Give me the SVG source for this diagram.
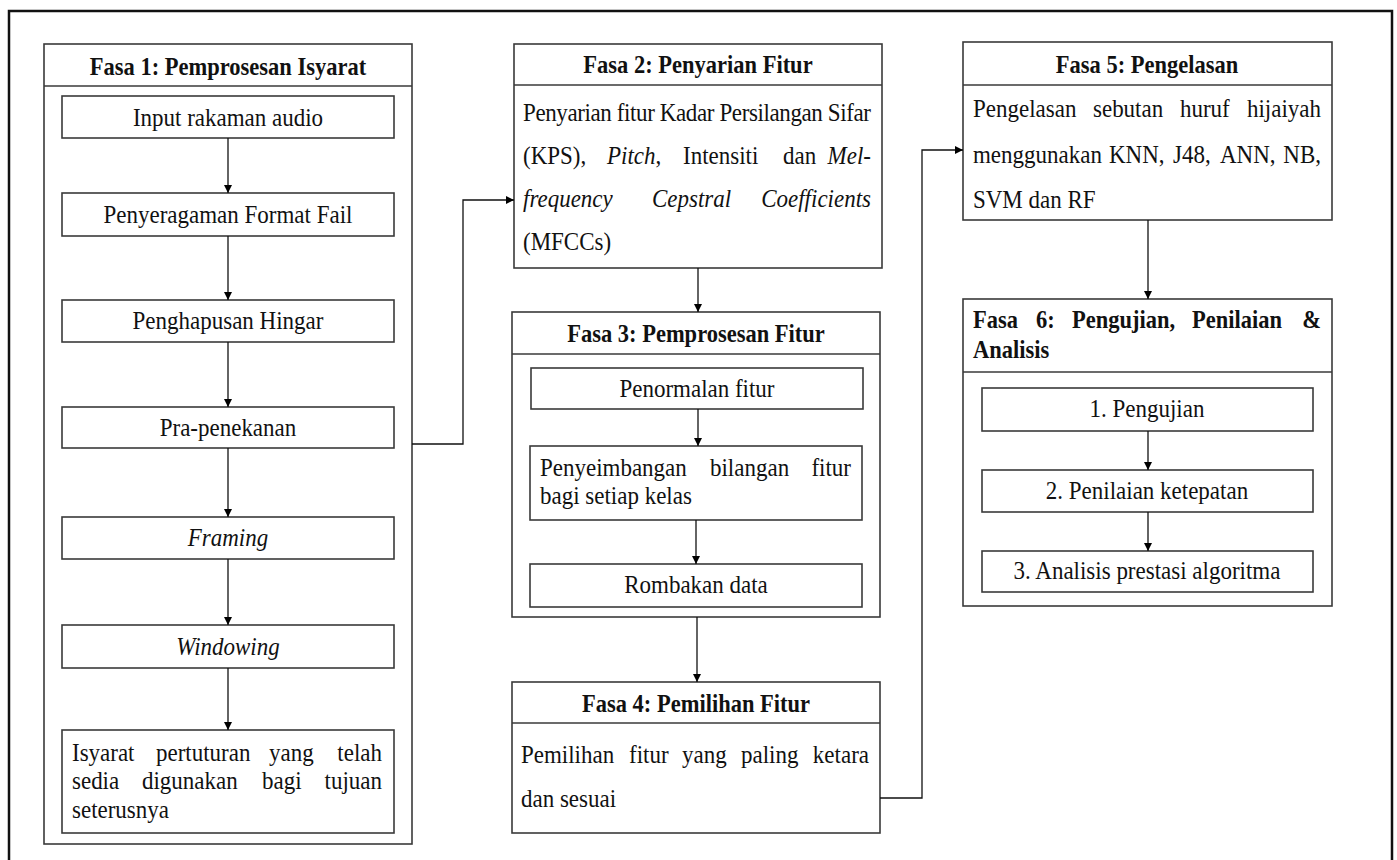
<svg xmlns="http://www.w3.org/2000/svg" width="1397" height="860" viewBox="0 0 1397 860">
<defs>
<marker id="arr" markerUnits="userSpaceOnUse" markerWidth="9" markerHeight="8" refX="8" refY="4" orient="auto">
<path d="M0,0 L8,4 L0,8 z" fill="#000"/>
</marker>
<style>
.box{fill:#fff;stroke:#3a3a3a;stroke-width:1.6}
.hl{stroke:#3a3a3a;stroke-width:1.6}
.t{font-family:"Liberation Serif","Times New Roman",serif;font-size:23px;fill:#111}
.b{font-family:"Liberation Serif","Times New Roman",serif;font-size:22.5px;font-weight:bold;fill:#111}
.c{text-anchor:middle}
.e{text-anchor:end}
.i{font-style:italic}
.conn{fill:none;stroke:#111;stroke-width:1.3}
</style>
</defs>
<rect x="0" y="0" width="1397" height="860" fill="#fff"/>
<rect x="9" y="11" width="1383" height="860" fill="none" stroke="#111" stroke-width="2.5"/>

<g id="fasa1">
<rect class="box" x="44" y="44" width="368" height="800"/>
<line class="hl" x1="44" y1="86" x2="412" y2="86"/>
<text class="b c" x="228" y="75" transform="matrix(1,0,0,1.1,0,-7.5)">Fasa 1: Pemprosesan Isyarat</text>
</g>
<g id="f1-input">
<rect class="box" x="62" y="96" width="332" height="42"/>
<text class="t c" x="228" y="126" transform="matrix(1,0,0,1.1,0,-12.6)">Input rakaman audio</text>
</g>
<g id="f1-format">
<rect class="box" x="62" y="193" width="332" height="43"/>
<text class="t c" x="228" y="223" transform="matrix(1,0,0,1.1,0,-22.3)">Penyeragaman Format Fail</text>
</g>
<g id="f1-hingar">
<rect class="box" x="62" y="300" width="332" height="42"/>
<text class="t c" x="228" y="329" transform="matrix(1,0,0,1.1,0,-32.9)">Penghapusan Hingar</text>
</g>
<g id="f1-pra">
<rect class="box" x="62" y="407" width="332" height="41"/>
<text class="t c" x="228" y="436" transform="matrix(1,0,0,1.1,0,-43.6)">Pra-penekanan</text>
</g>
<g id="f1-framing">
<rect class="box" x="62" y="517" width="332" height="42"/>
<text class="t c i" x="228" y="546" transform="matrix(1,0,0,1.1,0,-54.6)">Framing</text>
</g>
<g id="f1-windowing">
<rect class="box" x="62" y="625" width="332" height="43"/>
<text class="t c i" x="228" y="655" transform="matrix(1,0,0,1.1,0,-65.5)">Windowing</text>
</g>
<g id="f1-isyarat">
<rect class="box" x="62" y="730" width="332" height="103"/>
<g transform="matrix(1,0,0,1.1,0,-76.1)">
<text class="t" x="72" y="761">Isyarat</text>
<text class="t" x="156" y="761">pertuturan</text>
<text class="t" x="269" y="761">yang</text>
<text class="t e" x="382" y="761">telah</text>
</g>
<g transform="matrix(1,0,0,1.1,0,-78.9)">
<text class="t" x="72" y="789">sedia</text>
<text class="t" x="142" y="789">digunakan</text>
<text class="t" x="262" y="789">bagi</text>
<text class="t e" x="382" y="789">tujuan</text>
</g>
<text class="t" x="72" y="818" transform="matrix(1,0,0,1.1,0,-81.8)">seterusnya</text>
</g>

<g id="fasa2">
<rect class="box" x="514" y="44" width="368" height="224"/>
<line class="hl" x1="514" y1="85" x2="882" y2="85"/>
<text class="b c" x="698" y="73" transform="matrix(1,0,0,1.1,0,-7.3)">Fasa 2: Penyarian Fitur</text>
<text class="t" x="523" y="121" textLength="348" lengthAdjust="spacing" transform="matrix(1,0,0,1.1,0,-12.1)">Penyarian fitur Kadar Persilangan Sifar</text>
<g transform="matrix(1,0,0,1.1,0,-16.4)">
<text class="t" x="523" y="164">(KPS),</text>
<text class="t" x="607" y="164"><tspan class="i">Pitch</tspan>,</text>
<text class="t" x="683" y="164">Intensiti</text>
<text class="t" x="783" y="164">dan</text>
<text class="t e i" x="871" y="164">Mel-</text>
</g>
<g transform="matrix(1,0,0,1.1,0,-20.7)">
<text class="t i" x="523" y="207">frequency</text>
<text class="t i" x="652" y="207">Cepstral</text>
<text class="t e i" x="871" y="207">Coefficients</text>
</g>
<text class="t" x="523" y="250" transform="matrix(1,0,0,1.1,0,-25)">(MFCCs)</text>
</g>

<g id="fasa3">
<rect class="box" x="512" y="312" width="368" height="305"/>
<line class="hl" x1="512" y1="354" x2="880" y2="354"/>
<text class="b c" x="696" y="342" transform="matrix(1,0,0,1.1,0,-34.2)">Fasa 3: Pemprosesan Fitur</text>
</g>
<g id="f3-penormalan">
<rect class="box" x="531" y="368" width="332" height="41"/>
<text class="t c" x="697" y="397" transform="matrix(1,0,0,1.1,0,-39.7)">Penormalan fitur</text>
</g>
<g id="f3-penyeimbangan">
<rect class="box" x="530" y="446" width="332" height="74"/>
<g transform="matrix(1,0,0,1.1,0,-47.6)">
<text class="t" x="540" y="476">Penyeimbangan</text>
<text class="t" x="710" y="476">bilangan</text>
<text class="t e" x="851" y="476">fitur</text>
</g>
<text class="t" x="540" y="504" transform="matrix(1,0,0,1.1,0,-50.4)">bagi setiap kelas</text>
</g>
<g id="f3-rombakan">
<rect class="box" x="530" y="564" width="332" height="43"/>
<text class="t c" x="696" y="593" transform="matrix(1,0,0,1.1,0,-59.3)">Rombakan data</text>
</g>

<g id="fasa4">
<rect class="box" x="512" y="682" width="368" height="151"/>
<line class="hl" x1="512" y1="723" x2="880" y2="723"/>
<text class="b c" x="696" y="712" transform="matrix(1,0,0,1.1,0,-71.2)">Fasa 4: Pemilihan Fitur</text>
<g transform="matrix(1,0,0,1.1,0,-76.3)">
<text class="t" x="521" y="763">Pemilihan</text>
<text class="t" x="629" y="763">fitur</text>
<text class="t" x="682" y="763">yang</text>
<text class="t" x="741" y="763">paling</text>
<text class="t e" x="869" y="763">ketara</text>
</g>
<text class="t" x="521" y="807" transform="matrix(1,0,0,1.1,0,-80.7)">dan sesuai</text>
</g>

<g id="fasa5">
<rect class="box" x="963" y="42" width="369" height="178"/>
<line class="hl" x1="963" y1="85" x2="1332" y2="85"/>
<text class="b c" x="1147" y="73" transform="matrix(1,0,0,1.1,0,-7.3)">Fasa 5: Pengelasan</text>
<g transform="matrix(1,0,0,1.1,0,-11.7)">
<text class="t" x="973" y="117">Pengelasan</text>
<text class="t" x="1093" y="117">sebutan</text>
<text class="t" x="1180" y="117">huruf</text>
<text class="t e" x="1321" y="117">hijaiyah</text>
</g>
<g transform="matrix(1,0,0,1.1,0,-16.3)">
<text class="t" x="973" y="163">menggunakan</text>
<text class="t" x="1109" y="163">KNN,</text>
<text class="t" x="1173" y="163">J48,</text>
<text class="t" x="1220" y="163">ANN,</text>
<text class="t e" x="1321" y="163">NB,</text>
</g>
<text class="t" x="973" y="208" transform="matrix(1,0,0,1.1,0,-20.8)">SVM dan RF</text>
</g>

<g id="fasa6">
<rect class="box" x="963" y="299" width="369" height="307"/>
<line class="hl" x1="963" y1="372" x2="1332" y2="372"/>
<g transform="matrix(1,0,0,1.1,0,-32.8)">
<text class="b" x="973" y="328">Fasa</text>
<text class="b" x="1036" y="328">6:</text>
<text class="b" x="1072" y="328">Pengujian,</text>
<text class="b" x="1192" y="328">Penilaian</text>
<text class="b e" x="1321" y="328">&amp;</text>
</g>
<text class="b" x="973" y="358" transform="matrix(1,0,0,1.1,0,-35.8)">Analisis</text>
</g>
<g id="f6-pengujian">
<rect class="box" x="982" y="388" width="331" height="43"/>
<text class="t c" x="1147" y="417" transform="matrix(1,0,0,1.1,0,-41.7)">1. Pengujian</text>
</g>
<g id="f6-penilaian">
<rect class="box" x="982" y="470" width="331" height="42"/>
<text class="t c" x="1147" y="499" transform="matrix(1,0,0,1.1,0,-49.9)">2. Penilaian ketepatan</text>
</g>
<g id="f6-analisis">
<rect class="box" x="982" y="551" width="331" height="41"/>
<text class="t c" x="1147" y="579" transform="matrix(1,0,0,1.1,0,-57.9)">3. Analisis prestasi algoritma</text>
</g>

<g id="connectors">
<path class="conn" d="M228,138 V193" marker-end="url(#arr)"/>
<path class="conn" d="M228,236 V300" marker-end="url(#arr)"/>
<path class="conn" d="M228,342 V407" marker-end="url(#arr)"/>
<path class="conn" d="M228,448 V517" marker-end="url(#arr)"/>
<path class="conn" d="M228,559 V625" marker-end="url(#arr)"/>
<path class="conn" d="M228,668 V730" marker-end="url(#arr)"/>
<path class="conn" d="M412,444 H463 V200 H514" marker-end="url(#arr)"/>
<path class="conn" d="M698,268 V312" marker-end="url(#arr)"/>
<path class="conn" d="M698,409 V446" marker-end="url(#arr)"/>
<path class="conn" d="M696,520 V564" marker-end="url(#arr)"/>
<path class="conn" d="M697,617 V682" marker-end="url(#arr)"/>
<path class="conn" d="M880,798 H922 V150 H963" marker-end="url(#arr)"/>
<path class="conn" d="M1148,220 V299" marker-end="url(#arr)"/>
<path class="conn" d="M1148,431 V470" marker-end="url(#arr)"/>
<path class="conn" d="M1148,512 V551" marker-end="url(#arr)"/>
</g>
</svg>
